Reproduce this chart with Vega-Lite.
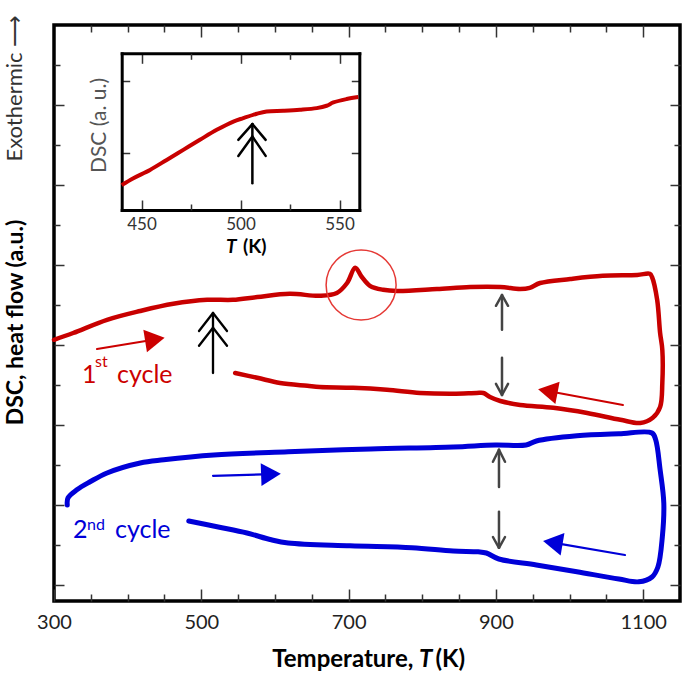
{
  "$schema": "https://vega.github.io/schema/vega-lite/v6.json",
  "width": 626,
  "height": 576,
  "autosize": {"type": "none"},
  "padding": {"left": 54, "top": 25, "right": 5, "bottom": 73},
  "config": {
    "view": {"stroke": "black", "strokeWidth": 3.5},
    "font": "Lato",
    "axis": {"grid": false, "domain": false, "labelFont": "Lato", "titleFont": "Lato", "tickColor": "#333333", "tickWidth": 1.5, "labelColor": "#222222", "labelFlush": false, "labelOverlap": false}
  },
  "datasets": {
    "curves": [
      {"cycle": 1, "i": 0, "T": 300, "v": 7.13}, {"cycle": 1, "i": 1, "T": 326, "v": 7.30}, {"cycle": 1, "i": 2, "T": 372, "v": 7.63},
      {"cycle": 1, "i": 3, "T": 417, "v": 7.85}, {"cycle": 1, "i": 4, "T": 462, "v": 8.03}, {"cycle": 1, "i": 5, "T": 508, "v": 8.13},
      {"cycle": 1, "i": 6, "T": 543, "v": 8.13}, {"cycle": 1, "i": 7, "T": 576, "v": 8.20}, {"cycle": 1, "i": 8, "T": 620, "v": 8.28},
      {"cycle": 1, "i": 9, "T": 661, "v": 8.23}, {"cycle": 1, "i": 10, "T": 684, "v": 8.30}, {"cycle": 1, "i": 11, "T": 698, "v": 8.55},
      {"cycle": 1, "i": 12, "T": 709, "v": 8.93}, {"cycle": 1, "i": 13, "T": 718, "v": 8.70}, {"cycle": 1, "i": 14, "T": 729, "v": 8.48},
      {"cycle": 1, "i": 15, "T": 747, "v": 8.38}, {"cycle": 1, "i": 16, "T": 766, "v": 8.35}, {"cycle": 1, "i": 17, "T": 820, "v": 8.40},
      {"cycle": 1, "i": 18, "T": 865, "v": 8.45}, {"cycle": 1, "i": 19, "T": 906, "v": 8.45}, {"cycle": 1, "i": 20, "T": 933, "v": 8.40},
      {"cycle": 1, "i": 21, "T": 946, "v": 8.43}, {"cycle": 1, "i": 22, "T": 960, "v": 8.55}, {"cycle": 1, "i": 23, "T": 1001, "v": 8.65},
      {"cycle": 1, "i": 24, "T": 1045, "v": 8.73}, {"cycle": 1, "i": 25, "T": 1092, "v": 8.75}, {"cycle": 1, "i": 26, "T": 1109, "v": 8.78},
      {"cycle": 1, "i": 27, "T": 1112, "v": 8.70}, {"cycle": 1, "i": 28, "T": 1119, "v": 8.13}, {"cycle": 1, "i": 29, "T": 1123, "v": 7.30},
      {"cycle": 1, "i": 30, "T": 1126, "v": 6.88}, {"cycle": 1, "i": 31, "T": 1126, "v": 6.05}, {"cycle": 1, "i": 32, "T": 1123, "v": 5.45},
      {"cycle": 1, "i": 33, "T": 1113, "v": 5.18}, {"cycle": 1, "i": 34, "T": 1096, "v": 5.05}, {"cycle": 1, "i": 35, "T": 1069, "v": 5.13},
      {"cycle": 1, "i": 36, "T": 1024, "v": 5.30}, {"cycle": 1, "i": 37, "T": 978, "v": 5.43}, {"cycle": 1, "i": 38, "T": 933, "v": 5.50},
      {"cycle": 1, "i": 39, "T": 906, "v": 5.60}, {"cycle": 1, "i": 40, "T": 892, "v": 5.70}, {"cycle": 1, "i": 41, "T": 883, "v": 5.80},
      {"cycle": 1, "i": 42, "T": 874, "v": 5.80}, {"cycle": 1, "i": 43, "T": 842, "v": 5.78}, {"cycle": 1, "i": 44, "T": 797, "v": 5.80},
      {"cycle": 1, "i": 45, "T": 752, "v": 5.88}, {"cycle": 1, "i": 46, "T": 706, "v": 5.93}, {"cycle": 1, "i": 47, "T": 661, "v": 5.95},
      {"cycle": 1, "i": 48, "T": 644, "v": 5.98}, {"cycle": 1, "i": 49, "T": 607, "v": 6.05}, {"cycle": 1, "i": 50, "T": 576, "v": 6.18},
      {"cycle": 1, "i": 51, "T": 546, "v": 6.30},
      {"cycle": 2, "i": 0, "T": 318, "v": 3.00}, {"cycle": 2, "i": 1, "T": 319, "v": 3.18}, {"cycle": 2, "i": 2, "T": 331, "v": 3.38},
      {"cycle": 2, "i": 3, "T": 349, "v": 3.58}, {"cycle": 2, "i": 4, "T": 372, "v": 3.80}, {"cycle": 2, "i": 5, "T": 417, "v": 4.05},
      {"cycle": 2, "i": 6, "T": 449, "v": 4.13}, {"cycle": 2, "i": 7, "T": 517, "v": 4.25}, {"cycle": 2, "i": 8, "T": 618, "v": 4.33},
      {"cycle": 2, "i": 9, "T": 730, "v": 4.40}, {"cycle": 2, "i": 10, "T": 842, "v": 4.45}, {"cycle": 2, "i": 11, "T": 899, "v": 4.50},
      {"cycle": 2, "i": 12, "T": 941, "v": 4.50}, {"cycle": 2, "i": 13, "T": 955, "v": 4.60}, {"cycle": 2, "i": 14, "T": 1010, "v": 4.73},
      {"cycle": 2, "i": 15, "T": 1067, "v": 4.78}, {"cycle": 2, "i": 16, "T": 1112, "v": 4.80}, {"cycle": 2, "i": 17, "T": 1117, "v": 4.63},
      {"cycle": 2, "i": 18, "T": 1123, "v": 3.88}, {"cycle": 2, "i": 19, "T": 1128, "v": 3.05}, {"cycle": 2, "i": 20, "T": 1126, "v": 2.20},
      {"cycle": 2, "i": 21, "T": 1120, "v": 1.45}, {"cycle": 2, "i": 22, "T": 1112, "v": 1.20}, {"cycle": 2, "i": 23, "T": 1094, "v": 1.08},
      {"cycle": 2, "i": 24, "T": 1067, "v": 1.15}, {"cycle": 2, "i": 25, "T": 1010, "v": 1.33}, {"cycle": 2, "i": 26, "T": 955, "v": 1.50},
      {"cycle": 2, "i": 27, "T": 904, "v": 1.65}, {"cycle": 2, "i": 28, "T": 887, "v": 1.80}, {"cycle": 2, "i": 29, "T": 876, "v": 1.83},
      {"cycle": 2, "i": 30, "T": 842, "v": 1.85}, {"cycle": 2, "i": 31, "T": 786, "v": 1.93}, {"cycle": 2, "i": 32, "T": 702, "v": 1.98},
      {"cycle": 2, "i": 33, "T": 618, "v": 2.05}, {"cycle": 2, "i": 34, "T": 595, "v": 2.13}, {"cycle": 2, "i": 35, "T": 562, "v": 2.30},
      {"cycle": 2, "i": 36, "T": 523, "v": 2.45}, {"cycle": 2, "i": 37, "T": 483, "v": 2.60}
    ],
    "segs": [
      {"g": "cycle1", "x1": 358.4, "y1": 6.9, "x2": 437, "y2": 7.14},
      {"g": "cycle1", "x1": 1072.6, "y1": 5.5, "x2": 970.5, "y2": 5.85},
      {"g": "cycle2", "x1": 515.9, "y1": 3.73, "x2": 594.6, "y2": 3.77},
      {"g": "cycle2", "x1": 1075.3, "y1": 1.75, "x2": 977.3, "y2": 2.06},
      {"g": "onset", "x1": 515.9, "y1": 7.8, "x2": 515.9, "y2": 6.3},
      {"g": "onset", "x1": 515.9, "y1": 7.8, "x2": 496.9, "y2": 7.35},
      {"g": "onset", "x1": 515.9, "y1": 7.8, "x2": 534.9, "y2": 7.35},
      {"g": "onset", "x1": 515.9, "y1": 7.43, "x2": 496.9, "y2": 6.98},
      {"g": "onset", "x1": 515.9, "y1": 7.43, "x2": 534.9, "y2": 6.98},
      {"g": "gap", "x1": 908.3, "y1": 8.25, "x2": 908.3, "y2": 7.38},
      {"g": "gap", "x1": 908.3, "y1": 8.25, "x2": 900.1, "y2": 7.98},
      {"g": "gap", "x1": 908.3, "y1": 8.25, "x2": 916.5, "y2": 7.98},
      {"g": "gap", "x1": 908.3, "y1": 6.68, "x2": 908.3, "y2": 5.75},
      {"g": "gap", "x1": 908.3, "y1": 5.75, "x2": 900.1, "y2": 6.03},
      {"g": "gap", "x1": 908.3, "y1": 5.75, "x2": 916.5, "y2": 6.03},
      {"g": "gap", "x1": 904.2, "y1": 4.38, "x2": 904.2, "y2": 3.45},
      {"g": "gap", "x1": 904.2, "y1": 4.38, "x2": 896.0, "y2": 4.08},
      {"g": "gap", "x1": 904.2, "y1": 4.38, "x2": 912.4, "y2": 4.08},
      {"g": "gap", "x1": 904.2, "y1": 2.83, "x2": 904.2, "y2": 1.93},
      {"g": "gap", "x1": 904.2, "y1": 1.93, "x2": 896.0, "y2": 2.2},
      {"g": "gap", "x1": 904.2, "y1": 1.93, "x2": 912.4, "y2": 2.2}
    ],
    "heads": [
      {"g": "cycle1", "x": 437, "y": 7.14, "dir": 351},
      {"g": "cycle1", "x": 970.5, "y": 5.85, "dir": 190.7},
      {"g": "cycle2", "x": 594.6, "y": 3.77, "dir": 358},
      {"g": "cycle2", "x": 977.3, "y": 2.06, "dir": 189.6}
    ],
    "texts": [
      {"kind": "big", "g": "cycle1", "t": "1", "x": 338, "y": 6.05},
      {"kind": "big", "g": "cycle1", "t": "cycle", "x": 385.5, "y": 6.05},
      {"kind": "sup", "g": "cycle1", "t": "st", "x": 355.7, "y": 6.45},
      {"kind": "big", "g": "cycle2", "t": "2", "x": 325.8, "y": 2.18},
      {"kind": "big", "g": "cycle2", "t": "cycle", "x": 382.8, "y": 2.18},
      {"kind": "sup", "g": "cycle2", "t": "nd", "x": 344.8, "y": 2.38},
      {"kind": "title", "t": "Temperature,", "x": 788, "y": -1.05},
      {"kind": "titleT", "t": "T", "x": 795.6, "y": -1.05},
      {"kind": "titleK", "t": "(K)", "x": 818, "y": -1.05},
      {"kind": "side", "t": "Exothermic ⟶", "x": 247, "y": 13.42}
    ],
    "inset": [
      {"i": 0, "T": 440, "v": 0.555}, {"i": 1, "T": 445.9, "v": 0.651}, {"i": 2, "T": 454.3, "v": 0.767},
      {"i": 3, "T": 462.7, "v": 0.906}, {"i": 4, "T": 471.1, "v": 1.046}, {"i": 5, "T": 479.5, "v": 1.186},
      {"i": 6, "T": 488, "v": 1.325}, {"i": 7, "T": 496.4, "v": 1.441}, {"i": 8, "T": 501.4, "v": 1.489},
      {"i": 9, "T": 508.2, "v": 1.549}, {"i": 10, "T": 513.2, "v": 1.581}, {"i": 11, "T": 521.6, "v": 1.591},
      {"i": 12, "T": 530, "v": 1.605}, {"i": 13, "T": 538.5, "v": 1.628}, {"i": 14, "T": 543.5, "v": 1.661},
      {"i": 15, "T": 546.9, "v": 1.707}, {"i": 16, "T": 553.6, "v": 1.754}, {"i": 17, "T": 559.5, "v": 1.782}
    ],
    "isegs": [
      {"x1": 506, "y1": 1.405, "x2": 506, "y2": 0.581},
      {"x1": 506, "y1": 1.405, "x2": 498.9, "y2": 1.186},
      {"x1": 506, "y1": 1.405, "x2": 512.7, "y2": 1.186},
      {"x1": 506, "y1": 1.232, "x2": 498.9, "y2": 0.962},
      {"x1": 506, "y1": 1.232, "x2": 512.7, "y2": 0.962}
    ],
    "itexts": [
      {"kind": "T", "t": "T", "x": 492.7, "y": -0.39},
      {"kind": "K", "t": "(K)", "x": 501.3, "y": -0.39}
    ]
  },
  "layer": [
    {
      "layer": [
        {
          "data": {"name": "curves"},
          "transform": [{"filter": "datum.cycle === 1"}],
          "mark": {"type": "line", "color": "#c80000", "strokeWidth": 4.5, "strokeJoin": "round", "strokeCap": "round", "interpolate": "catmull-rom"},
          "encoding": {
            "x": {"field": "T", "type": "quantitative", "scale": {"domain": [300, 1150], "nice": false, "zero": false},
              "axis": {"orient": "bottom", "values": [300, 500, 700, 900, 1100], "format": "d", "tickSize": -12, "labelPadding": 23, "labelFontSize": 20, "title": null}},
            "y": {"field": "v", "type": "quantitative", "scale": {"domain": [0.6, 15], "nice": false, "zero": false},
              "axis": {"orient": "left", "values": [1, 3, 5, 7, 9, 11, 13], "tickSize": -10, "labels": false,
                "title": "DSC, heat flow (a.u.)", "titleFontSize": 23, "titleFontWeight": "bold", "titleColor": "black",
                "titleX": -39, "titleY": 297, "titleAngle": 270, "titleAlign": "center", "titleBaseline": "middle"}},
            "order": {"field": "i", "type": "quantitative"}
          }
        },
        {
          "data": {"name": "curves"},
          "transform": [{"filter": "datum.cycle === 2"}],
          "mark": {"type": "line", "color": "#0000d8", "strokeWidth": 5, "strokeJoin": "round", "strokeCap": "round", "interpolate": "catmull-rom"},
          "encoding": {
            "x": {"field": "T", "type": "quantitative", "scale": {"domain": [300, 1150], "nice": false, "zero": false},
              "axis": {"orient": "top", "values": [500, 700, 900, 1100], "tickSize": -12, "labels": false, "title": null}},
            "y": {"field": "v", "type": "quantitative", "scale": {"domain": [0.6, 15], "nice": false, "zero": false},
              "axis": {"orient": "right", "values": [1, 3, 5, 7, 9, 11, 13], "tickSize": -10, "labels": false, "title": null}},
            "order": {"field": "i", "type": "quantitative"}
          }
        },
        {
          "data": {"name": "segs"},
          "mark": {"type": "rule", "strokeCap": "round"},
          "encoding": {
            "x": {"field": "x1", "type": "quantitative", "scale": {"domain": [300, 1150], "nice": false, "zero": false},
              "axis": {"orient": "bottom", "values": [350, 400, 450, 550, 600, 650, 750, 800, 850, 950, 1000, 1050], "tickSize": -7, "labels": false, "title": null}},
            "y": {"field": "y1", "type": "quantitative", "scale": {"domain": [0.6, 15], "nice": false, "zero": false},
              "axis": {"orient": "left", "values": [2, 4, 6, 8, 10, 12, 14], "tickSize": -6, "labels": false, "title": null}},
            "x2": {"field": "x2"},
            "y2": {"field": "y2"},
            "color": {"field": "g", "type": "nominal", "scale": {"domain": ["cycle1", "cycle2", "onset", "gap"], "range": ["#cc0000", "#0000d8", "#000000", "#444444"]}, "legend": null},
            "strokeWidth": {"field": "g", "type": "nominal", "scale": {"domain": ["cycle1", "cycle2", "onset", "gap"], "range": [2, 2.5, 3, 1.2]}, "legend": null}
          }
        },
        {
          "data": {"name": "heads"},
          "mark": {"type": "point", "shape": "triangle-right", "filled": true, "opacity": 1, "size": 520},
          "encoding": {
            "x": {"field": "x", "type": "quantitative", "scale": {"domain": [300, 1150], "nice": false, "zero": false},
              "axis": {"orient": "top", "values": [350, 400, 450, 550, 600, 650, 750, 800, 850, 950, 1000, 1050], "tickSize": -7, "labels": false, "title": null}},
            "y": {"field": "y", "type": "quantitative", "scale": {"domain": [0.6, 15], "nice": false, "zero": false},
              "axis": {"orient": "right", "values": [2, 4, 6, 8, 10, 12, 14], "tickSize": -6, "labels": false, "title": null}},
            "angle": {"field": "dir", "type": "quantitative", "scale": null},
            "color": {"field": "g", "type": "nominal", "scale": {"domain": ["cycle1", "cycle2", "onset", "gap"], "range": ["#cc0000", "#0000d8", "#000000", "#444444"]}, "legend": null}
          }
        },
        {
          "data": {"values": [{"T": 717, "v": 8.5}]},
          "mark": {"type": "point", "shape": "circle", "filled": false, "size": 4900, "stroke": "#e53935", "strokeWidth": 1.5, "opacity": 1},
          "encoding": {
            "x": {"field": "T", "type": "quantitative", "scale": {"domain": [300, 1150], "nice": false, "zero": false}, "axis": null},
            "y": {"field": "v", "type": "quantitative", "scale": {"domain": [0.6, 15], "nice": false, "zero": false}, "axis": null}
          }
        },
        {
          "data": {"name": "texts"},
          "transform": [{"filter": "datum.kind === 'big'"}],
          "mark": {"type": "text", "align": "left", "baseline": "alphabetic", "fontSize": 25, "font": "Lato"},
          "encoding": {
            "x": {"field": "x", "type": "quantitative", "scale": {"domain": [300, 1150], "nice": false, "zero": false}, "axis": null},
            "y": {"field": "y", "type": "quantitative", "scale": {"domain": [0.6, 15], "nice": false, "zero": false}, "axis": null},
            "text": {"field": "t"},
            "color": {"field": "g", "type": "nominal", "scale": {"domain": ["cycle1", "cycle2", "onset", "gap"], "range": ["#cc0000", "#0000d8", "#000000", "#444444"]}, "legend": null}
          }
        },
        {
          "data": {"name": "texts"},
          "transform": [{"filter": "datum.kind === 'sup'"}],
          "mark": {"type": "text", "align": "left", "baseline": "alphabetic", "fontSize": 16, "font": "Lato"},
          "encoding": {
            "x": {"field": "x", "type": "quantitative", "scale": {"domain": [300, 1150], "nice": false, "zero": false}, "axis": null},
            "y": {"field": "y", "type": "quantitative", "scale": {"domain": [0.6, 15], "nice": false, "zero": false}, "axis": null},
            "text": {"field": "t"},
            "color": {"field": "g", "type": "nominal", "scale": {"domain": ["cycle1", "cycle2", "onset", "gap"], "range": ["#cc0000", "#0000d8", "#000000", "#444444"]}, "legend": null}
          }
        },
        {
          "data": {"name": "texts"},
          "transform": [{"filter": "datum.kind === 'title'"}],
          "mark": {"type": "text", "align": "right", "baseline": "alphabetic", "fontSize": 24, "fontWeight": "bold", "font": "Lato", "color": "black"},
          "encoding": {
            "x": {"field": "x", "type": "quantitative", "scale": {"domain": [300, 1150], "nice": false, "zero": false}, "axis": null},
            "y": {"field": "y", "type": "quantitative", "scale": {"domain": [0.6, 15], "nice": false, "zero": false}, "axis": null},
            "text": {"field": "t"}
          }
        },
        {
          "data": {"name": "texts"},
          "transform": [{"filter": "datum.kind === 'titleT'"}],
          "mark": {"type": "text", "align": "left", "baseline": "alphabetic", "fontSize": 24, "fontWeight": "bold", "fontStyle": "italic", "font": "Lato", "color": "black"},
          "encoding": {
            "x": {"field": "x", "type": "quantitative", "scale": {"domain": [300, 1150], "nice": false, "zero": false}, "axis": null},
            "y": {"field": "y", "type": "quantitative", "scale": {"domain": [0.6, 15], "nice": false, "zero": false}, "axis": null},
            "text": {"field": "t"}
          }
        },
        {
          "data": {"name": "texts"},
          "transform": [{"filter": "datum.kind === 'titleK'"}],
          "mark": {"type": "text", "align": "left", "baseline": "alphabetic", "fontSize": 24, "fontWeight": "bold", "font": "Lato", "color": "black"},
          "encoding": {
            "x": {"field": "x", "type": "quantitative", "scale": {"domain": [300, 1150], "nice": false, "zero": false}, "axis": null},
            "y": {"field": "y", "type": "quantitative", "scale": {"domain": [0.6, 15], "nice": false, "zero": false}, "axis": null},
            "text": {"field": "t"}
          }
        },
        {
          "data": {"name": "texts"},
          "transform": [{"filter": "datum.kind === 'side'"}],
          "mark": {"type": "text", "align": "center", "baseline": "middle", "angle": 270, "fontSize": 22, "font": "Lato", "color": "#333333"},
          "encoding": {
            "x": {"field": "x", "type": "quantitative", "scale": {"domain": [300, 1150], "nice": false, "zero": false}, "axis": null},
            "y": {"field": "y", "type": "quantitative", "scale": {"domain": [0.6, 15], "nice": false, "zero": false}, "axis": null},
            "text": {"field": "t"}
          }
        }
      ],
      "resolve": {"axis": {"x": "independent", "y": "independent"}}
    },
    {
      "layer": [
        {
          "data": {"name": "inset"},
          "mark": {"type": "line", "color": "#c80000", "strokeWidth": 4, "strokeJoin": "round", "strokeCap": "butt", "interpolate": "catmull-rom"},
          "encoding": {
            "x": {"field": "T", "type": "quantitative", "scale": {"domain": [440, 560], "range": [67.7, 305.3], "nice": false, "zero": false},
              "axis": {"orient": "bottom", "offset": -391, "values": [450, 500, 550], "format": "d", "tickSize": -10, "labelPadding": 16, "labelFontSize": 17, "labelColor": "#333333", "title": null,
                "domain": true, "domainColor": "black", "domainWidth": 3, "domainCap": "square"}},
            "y": {"field": "v", "type": "quantitative", "scale": {"domain": [0.208, 2.392], "range": [185, 28.3], "nice": false, "zero": false},
              "axis": {"orient": "left", "offset": -67.7, "values": [1, 2], "tickSize": -8, "labels": false,
                "domain": true, "domainColor": "black", "domainWidth": 3, "domainCap": "square",
                "title": "DSC  (a. u.)", "titleFontSize": 21, "titleFontWeight": "normal", "titleColor": "#555555",
                "titleX": -22, "titleY": 100, "titleAngle": 270, "titleAlign": "center", "titleBaseline": "middle"}},
            "order": {"field": "i", "type": "quantitative"}
          }
        },
        {
          "data": {"name": "isegs"},
          "mark": {"type": "rule", "color": "black", "strokeWidth": 2.5, "strokeCap": "round"},
          "encoding": {
            "x": {"field": "x1", "type": "quantitative", "scale": {"domain": [440, 560], "range": [67.7, 305.3], "nice": false, "zero": false},
              "axis": {"orient": "bottom", "offset": -391, "values": [475, 525], "tickSize": -6, "labels": false, "title": null}},
            "y": {"field": "y1", "type": "quantitative", "scale": {"domain": [0.208, 2.392], "range": [185, 28.3], "nice": false, "zero": false},
              "axis": {"orient": "right", "offset": -320.7, "values": [1, 2], "tickSize": -8, "labels": false, "title": null,
                "domain": true, "domainColor": "black", "domainWidth": 3, "domainCap": "square"}},
            "x2": {"field": "x2"},
            "y2": {"field": "y2"}
          }
        },
        {
          "data": {"name": "itexts"},
          "transform": [{"filter": "datum.kind === 'T'"}],
          "mark": {"type": "text", "align": "left", "baseline": "alphabetic", "fontSize": 19, "fontWeight": "bold", "fontStyle": "italic", "font": "Lato", "color": "black"},
          "encoding": {
            "x": {"field": "x", "type": "quantitative", "scale": {"domain": [440, 560], "range": [67.7, 305.3], "nice": false, "zero": false},
              "axis": {"orient": "top", "offset": -28.3, "values": [450, 500, 550], "tickSize": -10, "labels": false, "title": null,
                "domain": true, "domainColor": "black", "domainWidth": 3, "domainCap": "square"}},
            "y": {"field": "y", "type": "quantitative", "scale": {"domain": [0.208, 2.392], "range": [185, 28.3], "nice": false, "zero": false}, "axis": null},
            "text": {"field": "t"}
          }
        },
        {
          "data": {"name": "itexts"},
          "transform": [{"filter": "datum.kind === 'K'"}],
          "mark": {"type": "text", "align": "left", "baseline": "alphabetic", "fontSize": 19, "fontWeight": "bold", "font": "Lato", "color": "black"},
          "encoding": {
            "x": {"field": "x", "type": "quantitative", "scale": {"domain": [440, 560], "range": [67.7, 305.3], "nice": false, "zero": false},
              "axis": {"orient": "top", "offset": -28.3, "values": [475, 525], "tickSize": -6, "labels": false, "title": null}},
            "y": {"field": "y", "type": "quantitative", "scale": {"domain": [0.208, 2.392], "range": [185, 28.3], "nice": false, "zero": false}, "axis": null},
            "text": {"field": "t"}
          }
        }
      ],
      "resolve": {"axis": {"x": "independent", "y": "independent"}}
    }
  ],
  "resolve": {"scale": {"x": "independent", "y": "independent"}, "axis": {"x": "independent", "y": "independent"}}
}
